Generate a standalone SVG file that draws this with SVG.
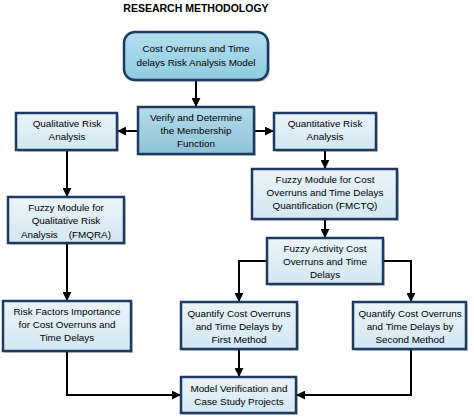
<svg xmlns="http://www.w3.org/2000/svg" width="474" height="417" viewBox="0 0 474 417">
<defs>
<linearGradient id="gTop" x1="0" y1="0" x2="0" y2="1"><stop offset="0" stop-color="#b5def0"/><stop offset="1" stop-color="#8fcbe0"/></linearGradient>
<linearGradient id="gMid" x1="0" y1="0" x2="0" y2="1"><stop offset="0" stop-color="#b4dbea"/><stop offset="1" stop-color="#8ec3d8"/></linearGradient>
<linearGradient id="gBox" x1="0" y1="0" x2="0" y2="1"><stop offset="0" stop-color="#eaf4fa"/><stop offset="1" stop-color="#d3e7f2"/></linearGradient>
<marker id="arr" viewBox="0 0 10 10" refX="9" refY="5" markerWidth="4.5" markerHeight="4.5" orient="auto" markerUnits="strokeWidth"><path d="M0,0 L10,5 L0,10 Z" fill="#000"/></marker>
<style>
.box{fill:url(#gBox);stroke:#1f3a60;stroke-width:2.5}
.mid{fill:url(#gMid);stroke:#1f3a60;stroke-width:2.5}
.top{fill:url(#gTop);stroke:#1f3a60;stroke-width:2.5}
.sh{fill:#000;opacity:0.18}
.t{font-family:"Liberation Sans",Arial,sans-serif;font-size:9.9px;fill:#000;text-anchor:middle}
.title{font-family:"Liberation Sans",Arial,sans-serif;font-size:10.5px;font-weight:bold;fill:#000;text-anchor:middle}
.c{fill:none;stroke:#000;stroke-width:2;marker-end:url(#arr)}
</style>
</defs>
<rect width="474" height="417" fill="#fff"/>
<text class="title" x="196" y="12">RESEARCH METHODOLOGY</text>

<g id="connectors">
<path class="c" d="M196,80 V106"/>
<path class="c" d="M138,131 H118"/>
<path class="c" d="M254,131 H273"/>
<path class="c" d="M67,150 V196"/>
<path class="c" d="M325,150 V168"/>
<path class="c" d="M325,219 V237"/>
<path class="c" d="M67,243 V300"/>
<path class="c" d="M267,261 H239 V301"/>
<path class="c" d="M383,261 H411 V301"/>
<path class="c" d="M239,349 V376"/>
<path class="c" d="M67,351 V395 H180"/>
<path class="c" d="M411,349 V395 H297"/>
</g>

<g id="n_model">
<rect class="sh" x="126" y="34" width="144" height="48" rx="11"/>
<rect class="top" x="124" y="32" width="144" height="48" rx="11"/>
<text class="t" x="196" y="52">Cost Overruns and Time</text>
<text class="t" x="196" y="66">delays Risk Analysis Model</text>
</g>

<g id="n_verify">
<rect class="sh" x="140" y="109" width="116" height="47"/>
<rect class="mid" x="138" y="107" width="116" height="47"/>
<text class="t" x="196" y="121">Verify and Determine</text>
<text class="t" x="196" y="134">the Membership</text>
<text class="t" x="196" y="147">Function</text>
</g>

<g id="n_qual">
<rect class="sh" x="18" y="115" width="101" height="37"/>
<rect class="box" x="16" y="113" width="101" height="37"/>
<text class="t" x="67" y="127">Qualitative Risk</text>
<text class="t" x="67" y="140">Analysis</text>
</g>

<g id="n_quant">
<rect class="sh" x="276" y="115" width="102" height="37"/>
<rect class="box" x="274" y="113" width="102" height="37"/>
<text class="t" x="325" y="127">Quantitative Risk</text>
<text class="t" x="325" y="140">Analysis</text>
</g>

<g id="n_fmctq">
<rect class="sh" x="254" y="171" width="145" height="50"/>
<rect class="box" x="252" y="169" width="145" height="50"/>
<text class="t" x="325" y="183">Fuzzy Module for Cost</text>
<text class="t" x="325" y="196">Overruns and Time Delays</text>
<text class="t" x="325" y="209">Quantification (FMCTQ)</text>
</g>

<g id="n_fmqra">
<rect class="sh" x="10" y="199" width="116" height="46"/>
<rect class="box" x="8" y="197" width="116" height="46"/>
<text class="t" x="66" y="211">Fuzzy Module for</text>
<text class="t" x="66" y="224">Qualitative Risk</text>
<text class="t" x="66" y="238" xml:space="preserve">Analysis    (FMQRA)</text>
</g>

<g id="n_activity">
<rect class="sh" x="269" y="240" width="116" height="46"/>
<rect class="box" x="267" y="238" width="116" height="46"/>
<text class="t" x="325" y="252">Fuzzy Activity Cost</text>
<text class="t" x="325" y="265">Overruns and Time</text>
<text class="t" x="325" y="278">Delays</text>
</g>

<g id="n_riskfactors">
<rect class="sh" x="5" y="303" width="128" height="50"/>
<rect class="box" x="3" y="301" width="128" height="50"/>
<text class="t" x="67" y="315">Risk Factors Importance</text>
<text class="t" x="67" y="328">for Cost Overruns and</text>
<text class="t" x="67" y="341">Time Delays</text>
</g>

<g id="n_first">
<rect class="sh" x="183" y="304" width="116" height="47"/>
<rect class="box" x="181" y="302" width="116" height="47"/>
<text class="t" x="239" y="317">Quantify Cost Overruns</text>
<text class="t" x="239" y="330">and Time Delays by</text>
<text class="t" x="239" y="343">First Method</text>
</g>

<g id="n_second">
<rect class="sh" x="355" y="304" width="113" height="47"/>
<rect class="box" x="353" y="302" width="113" height="47"/>
<text class="t" x="410" y="317">Quantify Cost Overruns</text>
<text class="t" x="410" y="330">and Time Delays by</text>
<text class="t" x="410" y="343">Second Method</text>
</g>

<g id="n_verification">
<rect class="sh" x="183" y="379" width="115" height="36"/>
<rect class="box" x="181" y="377" width="115" height="36"/>
<text class="t" x="239" y="392">Model Verification and</text>
<text class="t" x="239" y="405">Case Study Projects</text>
</g>
</svg>
